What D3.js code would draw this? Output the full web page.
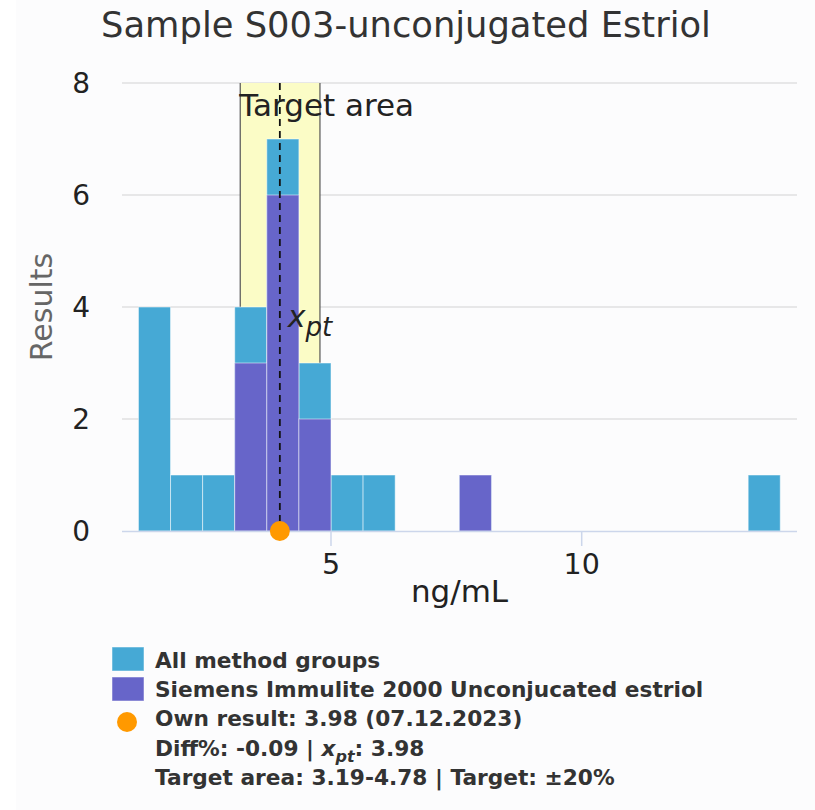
<!DOCTYPE html>
<html><head><meta charset="utf-8">
<script src="https://cdn.jsdelivr.net/npm/d3@7"></script>
<style>
html,body{margin:0;padding:0;background:#fff;}
text{font-family:"DejaVu Sans",sans-serif;}
</style></head>
<body>
<svg id="chart" width="815" height="810"></svg>
<script>
// ---- data ----
const title = "Sample S003-unconjugated Estriol";
const binLower = [1.16, 1.80, 2.44, 3.08, 3.72, 4.36, 5.00, 5.64, 7.56, 13.32];
const binWidth = 0.64;
const allCounts = [4, 1, 1, 4, 7, 3, 1, 1, 1, 1];
const methodCounts = [0, 0, 0, 3, 6, 2, 0, 0, 1, 0];
const yTicks = [0, 2, 4, 6, 8];
const xTicks = [5, 10];
const ownResult = 3.98;
const xpt = 3.98;
const targetLow = 3.19, targetHigh = 4.78;
const legendItems = ["All method groups", "Siemens Immulite 2000 Unconjucated estriol", "Own result: 3.98 (07.12.2023)"];
const legendExtra = ["Diff%: -0.09 | ", ": 3.98", "Target area: 3.19-4.78 | Target: \u00b120%"];

// ---- layout ----
const svg = d3.select("#chart");
const W = 815, H = 810;
const plot = {l: 122, r: 797, t: 83, b: 531};
const colAll = "#46a9d5", colMethod = "#6765c9", colOwn = "#ff9900";

svg.append("rect").attr("x", 16).attr("y", 0).attr("width", W - 16).attr("height", H).attr("fill", "#fcfcfd");

const x = d3.scaleLinear().domain([0.832, 14.294]).range([plot.l, plot.r]);
const y = d3.scaleLinear().domain([0, 8]).range([plot.b, plot.t]);

// title
svg.append("text").attr("x", 406).attr("y", 37).attr("text-anchor", "middle")
  .attr("font-size", 35.3).attr("fill", "#333").text(title);

// grid
svg.append("g").selectAll("line").data(yTicks.filter(d => d > 0)).join("line")
  .attr("x1", plot.l).attr("x2", plot.r).attr("y1", d => y(d)).attr("y2", d => y(d))
  .attr("stroke", "#e0e0e0").attr("stroke-width", 1.5);

// y labels
svg.append("g").selectAll("text").data(yTicks).join("text")
  .attr("x", 90).attr("y", d => y(d) + 10).attr("text-anchor", "end")
  .attr("font-size", 28).attr("fill", "#222").text(d => d);

// y title
svg.append("text").attr("transform", `translate(52,${(plot.t + plot.b) / 2}) rotate(-90)`)
  .attr("text-anchor", "middle").attr("font-size", 30).attr("fill", "#666").text("Results");

// target band
svg.append("rect").attr("x", x(targetLow)).attr("y", plot.t)
  .attr("width", x(targetHigh) - x(targetLow)).attr("height", plot.b - plot.t)
  .attr("fill", "#fbfcc6");
[targetLow, targetHigh].forEach(v => {
  svg.append("line").attr("x1", x(v)).attr("x2", x(v)).attr("y1", plot.t).attr("y2", plot.b)
    .attr("stroke", "#555").attr("stroke-width", 1.2);
});

// bars
const bars = binLower.map((b, i) => ({b, all: allCounts[i], m: methodCounts[i]}));
svg.append("g").selectAll("rect").data(bars.filter(d => d.all > 0)).join("rect")
  .attr("x", d => x(d.b)).attr("width", d => x(d.b + binWidth) - x(d.b))
  .attr("y", d => y(d.all)).attr("height", d => y(0) - y(d.all))
  .attr("fill", colAll).attr("stroke", "#ffffff").attr("stroke-opacity", 0.5).attr("stroke-width", 1);
svg.append("g").selectAll("rect").data(bars.filter(d => d.m > 0)).join("rect")
  .attr("x", d => x(d.b)).attr("width", d => x(d.b + binWidth) - x(d.b))
  .attr("y", d => y(d.m)).attr("height", d => y(0) - y(d.m))
  .attr("fill", colMethod).attr("stroke", "#ffffff").attr("stroke-opacity", 0.5).attr("stroke-width", 1);

// x axis
svg.append("line").attr("x1", plot.l).attr("x2", plot.r).attr("y1", plot.b + 0.5).attr("y2", plot.b + 0.5)
  .attr("stroke", "#ccd6eb").attr("stroke-width", 1.5);
svg.append("g").selectAll("line").data(xTicks).join("line")
  .attr("x1", d => x(d)).attr("x2", d => x(d)).attr("y1", plot.b).attr("y2", plot.b + 15)
  .attr("stroke", "#ccd6eb").attr("stroke-width", 1.5);
svg.append("g").selectAll("text").data(xTicks).join("text")
  .attr("x", d => x(d)).attr("y", 574).attr("text-anchor", "middle")
  .attr("font-size", 28.5).attr("fill", "#222").text(d => d);
svg.append("text").attr("x", (plot.l + plot.r) / 2).attr("y", 602).attr("text-anchor", "middle")
  .attr("font-size", 31).attr("fill", "#222").text("ng/mL");

// xpt dashed line
svg.append("line").attr("x1", x(xpt)).attr("x2", x(xpt)).attr("y1", plot.t).attr("y2", plot.b)
  .attr("stroke", "#111").attr("stroke-width", 1.8).attr("stroke-dasharray", "7,5");

// labels
svg.append("text").attr("x", x(targetLow) - 1).attr("y", 116).attr("font-size", 31).attr("fill", "#222").text("Target area");
const xl = svg.append("text").attr("x", x(xpt) + 8).attr("y", 327).attr("font-size", 30).attr("fill", "#222").attr("font-style", "italic");
xl.append("tspan").text("x");
xl.append("tspan").attr("dy", 9).attr("font-size", 26).text("pt");

// own result dot
svg.append("circle").attr("cx", x(ownResult)).attr("cy", y(0)).attr("r", 10).attr("fill", colOwn);

// legend
const lg = svg.append("g").attr("font-weight", "bold").attr("font-size", 21.7).attr("fill", "#333");
const lx = 155, base = [668, 697, 726, 756, 785];
lg.append("rect").attr("x", 112).attr("y", 647).attr("width", 32).attr("height", 24).attr("fill", colAll).attr("stroke", "#fff").attr("stroke-opacity", 0.5);
lg.append("rect").attr("x", 112).attr("y", 677).attr("width", 32).attr("height", 24).attr("fill", colMethod).attr("stroke", "#fff").attr("stroke-opacity", 0.5);
lg.append("circle").attr("cx", 127).attr("cy", 722).attr("r", 10).attr("fill", colOwn);
legendItems.forEach((t, i) => lg.append("text").attr("x", lx).attr("y", base[i]).text(t));
const d1 = lg.append("text").attr("x", lx).attr("y", base[3]);
d1.append("tspan").text(legendExtra[0]);
d1.append("tspan").attr("font-style", "italic").text("x");
d1.append("tspan").attr("font-style", "italic").attr("font-size", 16).attr("dy", 6).text("pt");
d1.append("tspan").attr("dy", -6).text(legendExtra[1]);
lg.append("text").attr("x", lx).attr("y", base[4]).text(legendExtra[2]);
</script>
</body></html>
